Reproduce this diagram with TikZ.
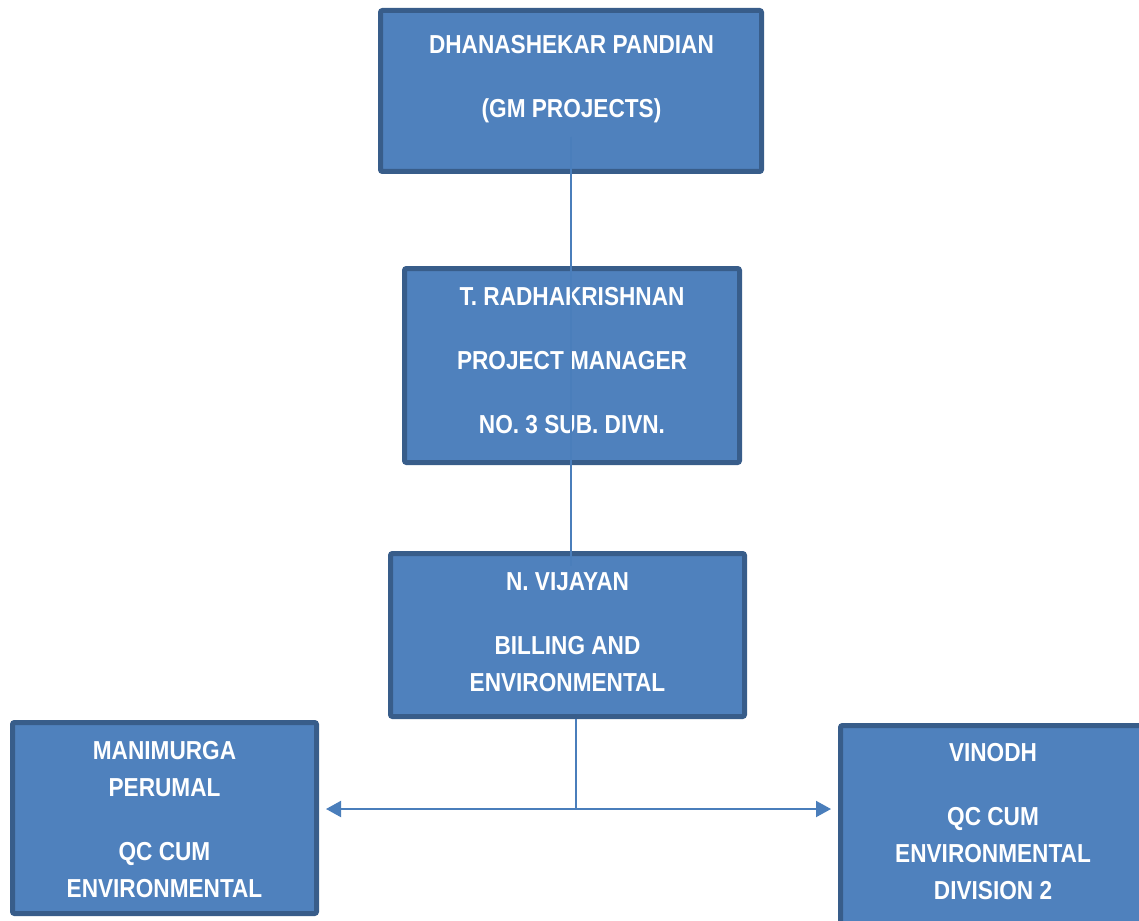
\documentclass[tikz,border=0pt]{standalone}
\usepackage{fontspec}
\setmainfont{Liberation Sans}[FakeStretch=0.87]
\usetikzlibrary{arrows.meta}
\definecolor{boxfill}{HTML}{4F81BD}
\definecolor{boxedge}{HTML}{385D8A}
\definecolor{linkblue}{HTML}{4A7EBB}
\tikzset{
  box/.style={draw=boxedge, fill=boxfill, line width=5pt, rounded corners=2pt, inner sep=0pt},
  boxtext/.style={anchor=north, inner sep=0pt, align=center, text=white,
    font=\fontsize{26}{37}\selectfont\bfseries},
  link/.style={draw=linkblue, line width=1.4pt},
  branch/.style={draw=linkblue, line width=2pt, -{Triangle[length=15pt,width=16pt]}, shorten >=7pt}
}
\begin{document}
\begin{tikzpicture}[x=1pt,y=-1pt]
    % constants
    \def\gap{27pt}
    % canvas
    \useasboundingbox (0,0) rectangle (1139,920);
    % boxes
    \node [box, minimum width=381, minimum height=161] (gm) at (571,91) {};
    \node [box, minimum width=335, minimum height=194] (pm) at (572,365.5) {};
    \node [box, minimum width=354, minimum height=163] (vij) at (567.5,635) {};
    \node [box, minimum width=304, minimum height=191] (mani) at (164.5,818) {};
    \node [box, minimum width=304, minimum height=200] (vin) at (992.5,825.5) {};
    % box texts
    \node [boxtext] (gmText) at (571.5,34.7) {DHANASHEKAR PANDIAN\\[\gap](GM PROJECTS)};
    \node [boxtext] (pmText) at (572,286.7) {T. RADHAKRISHNAN\\[\gap]PROJECT MANAGER\\[\gap]NO. 3 SUB. DIVN.};
    \node [boxtext] (vijText) at (567.5,572.7) {N. VIJAYAN\\[\gap]BILLING AND\\ENVIRONMENTAL};
    \node [boxtext] (maniText) at (164.5,740.7) {MANIMURGA\\PERUMAL\\[\gap]QC CUM\\ENVIRONMENTAL};
    \node [boxtext] (vinText) at (993,742.7) {VINODH\\[\gap]QC CUM\\ENVIRONMENTAL\\DIVISION 2};
    % split point
    \coordinate (split) at (576,809);
    % connectors
    \draw [link] ([yshift=37pt]gm.south) -- ([yshift=-15pt]vij.north -| gm.south);
    \draw [link] (vij.south -| split) -- (split);
    \draw [branch] (split) -- (split -| mani.east);
    \draw [branch] (split) -- (split -| vin.west);
\end{tikzpicture}
\end{document}
